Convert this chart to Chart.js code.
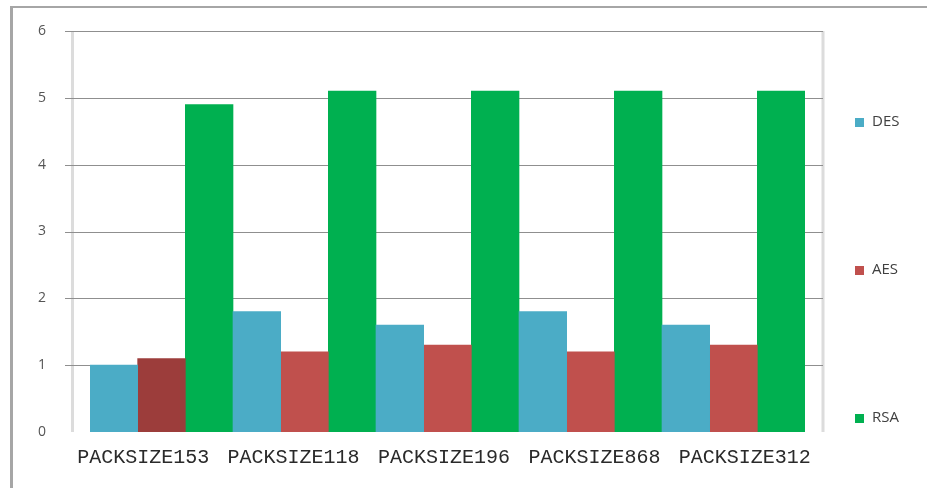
<!DOCTYPE html>
<html>
<head>
<meta charset="utf-8">
<script src="https://cdn.jsdelivr.net/npm/chart.js@4.4.1/dist/chart.umd.min.js"></script>
<style>
    html, body { margin: 0; padding: 0; background: #fff; }
    #wrap { position: relative; width: 927px; height: 488px; overflow: hidden; }
    #frame {
        position: absolute; left: 10px; top: 6px; width: 940px; height: 500px;
        border-top: 2px solid #a6a6a6; border-left: 3px solid #a6a6a6;
    }
    canvas { position: absolute; left: 0; top: 0; }
</style>
</head>
<body>
<div id="wrap">
    <div id="frame"></div>
    <canvas id="packChart" width="927" height="488"></canvas>
</div>
<script>
// Chart data
const categories = ['PACKSIZE153', 'PACKSIZE118', 'PACKSIZE196', 'PACKSIZE868', 'PACKSIZE312'];
const desValues = [1.0, 1.8, 1.6, 1.8, 1.6];
const aesValues = [1.1, 1.2, 1.3, 1.2, 1.3];
const rsaValues = [4.9, 5.1, 5.1, 5.1, 5.1];
const yMin = 0;
const yMax = 6;
const yStep = 1;

// plot frame sticks out past the bars on both sides (Excel style)
const FRAME_LEFT_PAD = 19;
const FRAME_RIGHT_PAD = 18;

function frameBounds(chart) {
    return {
        left: chart.chartArea.left - FRAME_LEFT_PAD,
        right: chart.chartArea.right + FRAME_RIGHT_PAD
    };
}

const framePlugin = {
    id: 'frame',
    beforeDatasetsDraw(chart) {
        const { ctx, scales } = chart;
        const y = scales.y;
        const { left, right } = frameBounds(chart);
        const top = y.getPixelForValue(yMax);
        const bottom = y.getPixelForValue(yMin);
        ctx.save();
        ctx.strokeStyle = '#dcdcdc';
        ctx.lineWidth = 3;
        ctx.beginPath();
        ctx.moveTo(left + 1.5, top);
        ctx.lineTo(left + 1.5, bottom);
        ctx.moveTo(right, top);
        ctx.lineTo(right, bottom);
        ctx.stroke();
        ctx.strokeStyle = '#8f8f8f';
        ctx.lineWidth = 1;
        y.ticks.forEach(t => {
            if (t.value === yMin) return;
            const py = Math.round(y.getPixelForValue(t.value)) + 0.5;
            ctx.beginPath();
            ctx.moveTo(left - 6, py);
            ctx.lineTo(right, py);
            ctx.stroke();
        });
        ctx.restore();
    },
    // category labels sit under the frame's slots, not under the bar groups
    afterDraw(chart) {
        const { ctx, chartArea } = chart;
        const { left, right } = frameBounds(chart);
        const slot = (right - left) / categories.length;
        ctx.save();
        ctx.font = '20px "Liberation Mono", "Courier New", monospace';
        ctx.fillStyle = '#2a2a2a';
        ctx.textAlign = 'center';
        ctx.textBaseline = 'middle';
        categories.forEach((name, i) => {
            ctx.fillText(name, left + slot * (i + 0.5) - 3, chartArea.bottom + 26);
        });
        ctx.restore();
    }
};

// Legend spread down the right side
const sideLegend = {
    id: 'sideLegend',
    afterDraw(chart) {
        const ctx = chart.ctx;
        ctx.save();
        ctx.font = '15px "Open Sans", sans-serif';
        ctx.textBaseline = 'middle';
        chart.data.datasets.forEach((ds, i) => {
            const yPos = 122 + i * 148;
            ctx.fillStyle = ds.legendColor;
            ctx.fillRect(855, yPos - 4, 9, 9);
            ctx.fillStyle = '#404040';
            ctx.fillText(ds.label, 872, yPos);
        });
        ctx.restore();
    }
};

const aesColors = aesValues.map((v, i) => i === 0 ? '#9c3d3b' : '#c0504d');

new Chart(document.getElementById('packChart'), {
    type: 'bar',
    data: {
        labels: categories,
        datasets: [
            { label: 'DES', data: desValues, backgroundColor: '#4bacc6', legendColor: '#4bacc6' },
            { label: 'AES', data: aesValues, backgroundColor: aesColors, legendColor: '#c0504d' },
            { label: 'RSA', data: rsaValues, backgroundColor: '#00b050', legendColor: '#00b050' }
        ]
    },
    options: {
        responsive: false,
        animation: false,
        categoryPercentage: 1.0,
        barPercentage: 1.0,
        layout: { padding: { left: 38, right: 122, top: 31, bottom: 0 } },
        plugins: {
            legend: { display: false },
            tooltip: { enabled: false }
        },
        scales: {
            x: {
                grid: { display: false },
                border: { display: false },
                ticks: { display: false },
                afterFit(scale) { scale.height = 56; }
            },
            y: {
                min: yMin,
                max: yMax,
                grid: { display: false, drawTicks: false },
                border: { display: false },
                ticks: {
                    stepSize: yStep,
                    padding: 0,
                    crossAlign: 'far',
                    color: '#555',
                    font: { family: '"Open Sans", sans-serif', size: 14 }
                },
                afterFit(scale) { scale.width = 52; }
            }
        }
    },
    plugins: [framePlugin, sideLegend]
});
</script>
</body>
</html>
